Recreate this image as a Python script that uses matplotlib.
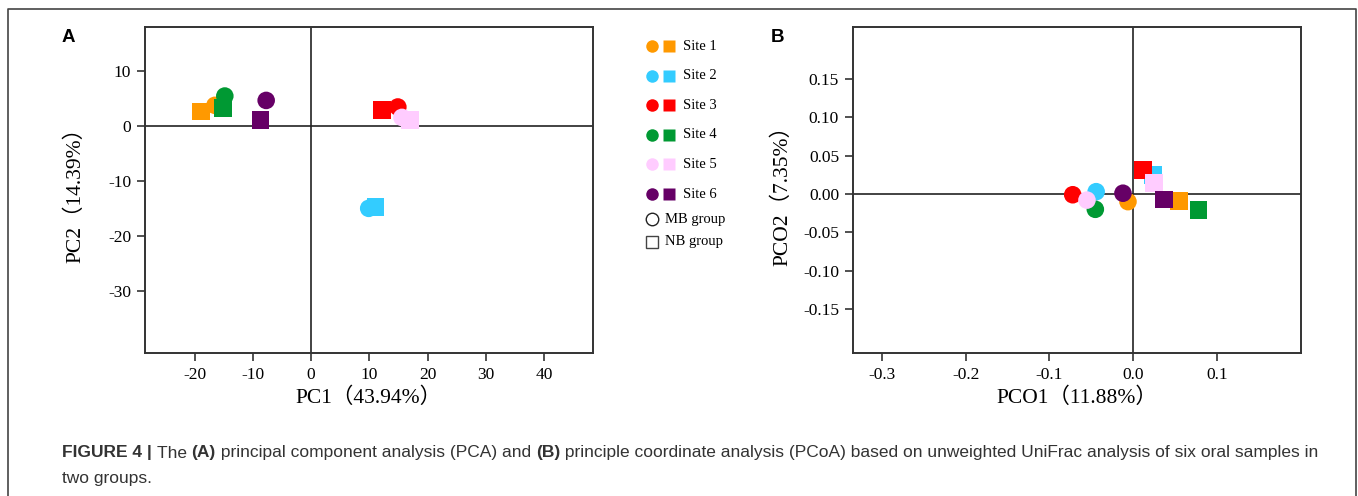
import matplotlib
matplotlib.use("Agg")
import matplotlib.pyplot as plt

# --- data ---
sites = ["Site 1", "Site 2", "Site 3", "Site 4", "Site 5", "Site 6"]
colors = ["#FF9900", "#33CCFF", "#FF0000", "#009933", "#FFCCFF", "#660066"]

# PCA (panel A): MB group = circles, NB group = squares
pca_mb_x = [-16.5, 9.9, 14.9, -14.8, 15.6, -7.7]
pca_mb_y = [3.8, -15.0, 3.5, 5.5, 1.6, 4.7]
pca_nb_x = [-18.9, 11.1, 12.2, -15.1, 17.0, -8.7]
pca_nb_y = [2.7, -14.8, 2.9, 3.3, 1.1, 1.1]

# PCoA (panel B)
pcoa_mb_x = [-0.006, -0.044, -0.072, -0.045, -0.055, -0.012]
pcoa_mb_y = [-0.010, 0.003, -0.001, -0.020, -0.008, 0.001]
pcoa_nb_x = [0.055, 0.024, 0.012, 0.078, 0.025, 0.037]
pcoa_nb_y = [-0.009, 0.025, 0.031, -0.021, 0.014, -0.007]

pca_xticks = [-20, -10, 0, 10, 20, 30, 40]
pca_yticks = [10, 0, -10, -20, -30]
pcoa_xticks = [-0.3, -0.2, -0.1, 0.0, 0.1]
pcoa_yticks = [0.15, 0.10, 0.05, 0.00, -0.05, -0.10, -0.15]

serif = ["Liberation Serif", "Noto Sans CJK SC"]
sans = ["Liberation Sans", "DejaVu Sans"]

W, H = 1358, 496
fig = plt.figure(figsize=(W / 100, H / 100), dpi=100)


def px_axes(x0, y0, x1, y1):
    return fig.add_axes([x0 / W, 1 - y1 / H, (x1 - x0) / W, (y1 - y0) / H])


def style_axes(ax, xticks, yticks, xfmt, yfmt):
    for s in ax.spines.values():
        s.set_linewidth(1.4)
        s.set_color("#333333")
    ax.axhline(0, color="#222222", lw=1.2, zorder=1)
    ax.axvline(0, color="#222222", lw=1.2, zorder=1)
    ax.set_xticks(xticks)
    ax.set_yticks(yticks)
    ax.set_xticklabels([xfmt.format(v) for v in xticks])
    ax.set_yticklabels([yfmt.format(v) for v in yticks])
    ax.tick_params(direction="out", length=6, width=1.2, color="#333333",
                   labelsize=12.5, pad=4)
    for lab in ax.get_xticklabels() + ax.get_yticklabels():
        lab.set_family(serif)


def scatter_groups(ax, mbx, mby, nbx, nby, size):
    for i in range(len(sites)):
        ax.scatter(nbx[i], nby[i], marker="s", s=size, color=colors[i],
                   edgecolors="none", zorder=3 + 2 * i)
        ax.scatter(mbx[i], mby[i], marker="o", s=size, color=colors[i],
                   edgecolors="none", zorder=4 + 2 * i)


# panel A
axA = px_axes(145, 27, 593, 353)
axA.set_xlim(-28.5, 48.4)
axA.set_ylim(-41.4, 18.1)
scatter_groups(axA, pca_mb_x, pca_mb_y, pca_nb_x, pca_nb_y, 160)
style_axes(axA, pca_xticks, pca_yticks, "{:d}", "{:d}")
axA.set_xlabel("PC1（43.94%）", family=serif, fontsize=15.5, labelpad=3)
axA.set_ylabel("PC2（14.39%）", family=serif, fontsize=15.5, labelpad=16)

# panel B
axB = px_axes(853, 27, 1301, 353)
axB.set_xlim(-0.3345, 0.2007)
axB.set_ylim(-0.2076, 0.218)
scatter_groups(axB, pcoa_mb_x, pcoa_mb_y, pcoa_nb_x, pcoa_nb_y, 160)
style_axes(axB, pcoa_xticks, pcoa_yticks, "{:.1f}", "{:.2f}")
axB.set_xlabel("PCO1（11.88%）", family=serif, fontsize=15.5, labelpad=3)
axB.set_ylabel("PCO2（7.35%）", family=serif, fontsize=15.5, labelpad=8)

# legend (drawn in a pixel-coordinate overlay)
lg = px_axes(630, 30, 740, 260)
lg.set_xlim(630, 740)
lg.set_ylim(260, 30)
lg.axis("off")
row_y = [46 + 29.6 * i for i in range(len(sites))]
for i, name in enumerate(sites):
    lg.plot(652, row_y[i], "o", ms=9, color=colors[i], mec="none")
    lg.plot(669, row_y[i], "s", ms=8.5, color=colors[i], mec="none")
    lg.text(683, row_y[i], name, family=serif, fontsize=10.5, va="center")
lg.plot(652, 219, "o", ms=9, mfc="white", mec="#222222", mew=1.0)
lg.text(665, 219, "MB group", family=serif, fontsize=10.5, va="center")
lg.plot(652, 242, "s", ms=8, mfc="white", mec="#444444", mew=1.0)
lg.text(665, 242, "NB group", family=serif, fontsize=10.5, va="center")

# panel letters
fig.text(68 / W, 1 - 37 / H, "A", family=sans, fontweight="bold", fontsize=13.5,
         ha="center", va="center")
fig.text(778 / W, 1 - 37 / H, "B", family=sans, fontweight="bold", fontsize=13.5,
         ha="center", va="center")

# frame around the figure (open at the bottom)
fig.add_artist(plt.Line2D([8 / W, 8 / W, 1356 / W, 1356 / W],
                          [0, 1 - 9 / H, 1 - 9 / H, 0],
                          transform=fig.transFigure, color="#444444", lw=1.2))

# caption, pieces placed one after another
cap1 = [("FIGURE 4 | ", True), ("The ", False), ("(A)", True),
        (" principal component analysis (PCA) and ", False), ("(B)", True),
        (" principle coordinate analysis (PCoA) based on unweighted UniFrac "
         "analysis of six oral samples in", False)]
fig.canvas.draw()
renderer = fig.canvas.get_renderer()
x = 62 / W
for txt, bold in cap1:
    t = fig.text(x, 1 - 453 / H, txt, family=sans, fontsize=12.5,
                 fontweight="bold" if bold else "normal", color="#333333",
                 va="center", ha="left")
    bb = t.get_window_extent(renderer)
    x += bb.width / W
fig.text(62 / W, 1 - 479 / H, "two groups.", family=sans, fontsize=12.5,
         color="#333333", va="center", ha="left")

fig.savefig("out.png", dpi=100)
